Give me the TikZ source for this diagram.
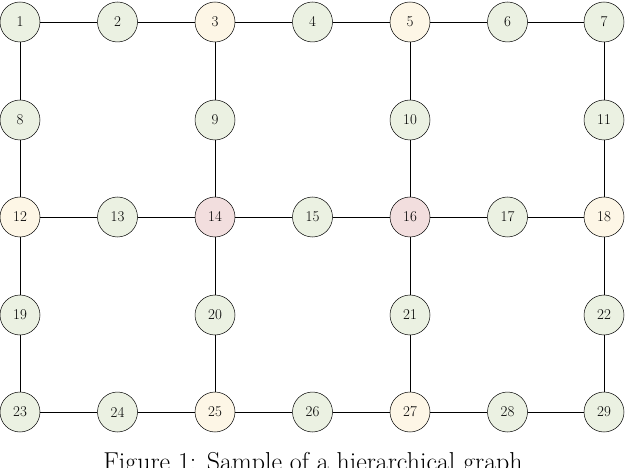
\documentclass[tikz,border=0pt]{standalone}
\begin{document}
\begin{tikzpicture}[x=1bp,y=-1bp,
  nd/.style={circle,draw,line width=0.5bp,minimum size=40bp,inner sep=0pt,font=\fontsize{15}{18}\selectfont},
  ed/.style={line width=0.6bp}]
\definecolor{gfill}{HTML}{EBF1E2}
\definecolor{yfill}{HTML}{FDF6E6}
\definecolor{pfill}{HTML}{F2DEDE}
\tikzset{gn/.style={nd,fill=gfill},yl/.style={nd,fill=yfill},pk/.style={nd,fill=pfill}}
\useasboundingbox (0,0) rectangle (626,468);
\clip (0,0) rectangle (626,468);
\def\xa{20}\def\xb{117.5}\def\xc{215}\def\xd{312.5}\def\xe{410}\def\xf{507.5}\def\xg{604}
\def\ya{22}\def\yb{120}\def\yc{217}\def\yd{315}\def\ye{412}
\node[gn] (n1) at (\xa,\ya) {1};
\node[gn] (n2) at (\xb,\ya) {2};
\node[yl] (n3) at (\xc,\ya) {3};
\node[gn] (n4) at (\xd,\ya) {4};
\node[yl] (n5) at (\xe,\ya) {5};
\node[gn] (n6) at (\xf,\ya) {6};
\node[gn] (n7) at (\xg,\ya) {7};
\node[gn] (n8) at (\xa,\yb) {8};
\node[gn] (n9) at (\xc,\yb) {9};
\node[gn] (n10) at (\xe,\yb) {10};
\node[gn] (n11) at (\xg,\yb) {11};
\node[yl] (n12) at (\xa,\yc) {12};
\node[gn] (n13) at (\xb,\yc) {13};
\node[pk] (n14) at (\xc,\yc) {14};
\node[gn] (n15) at (\xd,\yc) {15};
\node[pk] (n16) at (\xe,\yc) {16};
\node[gn] (n17) at (\xf,\yc) {17};
\node[yl] (n18) at (\xg,\yc) {18};
\node[gn] (n19) at (\xa,\yd) {19};
\node[gn] (n20) at (\xc,\yd) {20};
\node[gn] (n21) at (\xe,\yd) {21};
\node[gn] (n22) at (\xg,\yd) {22};
\node[gn] (n23) at (\xa,\ye) {23};
\node[gn] (n24) at (\xb,\ye) {24};
\node[yl] (n25) at (\xc,\ye) {25};
\node[gn] (n26) at (\xd,\ye) {26};
\node[yl] (n27) at (\xe,\ye) {27};
\node[gn] (n28) at (\xf,\ye) {28};
\node[gn] (n29) at (\xg,\ye) {29};
\foreach \a/\b in {1/2,2/3,3/4,4/5,5/6,6/7,12/13,13/14,14/15,15/16,16/17,17/18,23/24,24/25,25/26,26/27,27/28,28/29,
  1/8,8/12,12/19,19/23,3/9,9/14,14/20,20/25,5/10,10/16,16/21,21/27,7/11,11/18,18/22,22/29}
  \draw[ed] (n\a) -- (n\b);
\node[anchor=north,font=\fontsize{26}{30}\selectfont,inner sep=0pt] (cap) at (313,452) {Figure 1: Sample of a hierarchical graph};
\end{tikzpicture}
\end{document}
